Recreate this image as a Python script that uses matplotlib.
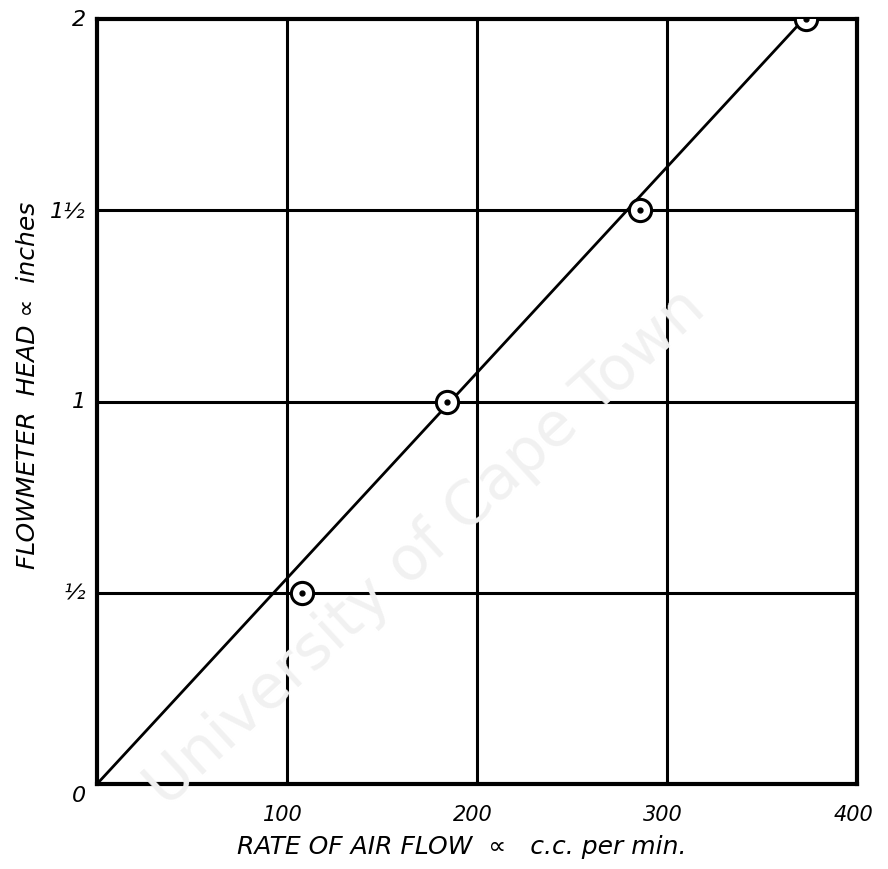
import matplotlib
matplotlib.use("Agg")
import matplotlib.pyplot as plt

# Data
flow_rate = [108, 184, 286, 373]          # c.c. per min
head = [0.5, 1.0, 1.5, 2.0]               # inches
fit_x = [0, 372]
fit_y = [0, 2]
x_ticks = [100, 200, 300, 400]
x_tick_labels = ["100", "200", "300", "400"]
y_ticks = [0, 0.5, 1, 1.5, 2]
y_tick_labels = ["0", "½", "1", "1½", "2"]

plt.rcParams['font.family'] = ['DejaVu Sans']

fig = plt.figure(figsize=(8.88, 8.70), dpi=100)
ax = fig.add_axes([97/888, 1 - 785/870, (857 - 97)/888, (785 - 20)/870])

# Watermark
fig.text(0.48, 0.37, "University of Cape Town", rotation=42.5, fontsize=44,
         color="#f1f1f1", ha="center", va="center", zorder=0)
ax.patch.set_alpha(0)

ax.set_xlim(0, 400)
ax.set_ylim(0, 2)

# grid
for xv in x_ticks[:-1]:
    ax.axvline(xv, color="black", lw=2.2, zorder=2)
for yv in y_ticks[1:-1]:
    ax.axhline(yv, color="black", lw=2.2, zorder=2)

for s in ax.spines.values():
    s.set_linewidth(3)
    s.set_color("black")

ax.plot(fit_x, fit_y, color="black", lw=2, zorder=3)
ax.plot(flow_rate, head, linestyle="none", marker="o", ms=16, mfc="white",
        mec="black", mew=2.2, zorder=4)
ax.plot(flow_rate, head, linestyle="none", marker="o", ms=3.5, mfc="black",
        mec="black", zorder=5)

ax.set_xticks([])
ax.set_yticks([])

# tick labels
for xv, lab in zip(x_ticks, x_tick_labels):
    ax.text(xv - 2, -0.078, lab, ha="center", va="center", fontsize=15,
            style="italic", transform=ax.transData, clip_on=False)
for yv, lab in zip(y_ticks, y_tick_labels):
    dy = -0.03 if yv == 0 else 0
    ax.text(-6, yv + dy, lab, ha="right", va="center", fontsize=16,
            style="italic", clip_on=False)

fig.text(0.52, 1 - 847/870, "RATE OF AIR FLOW  ∝   c.c. per min.", ha="center",
         va="center", fontsize=18, style="italic")
fig.text(28/888, 1 - 385/870, "FLOWMETER  HEAD ∝  inches", rotation=90,
         ha="center", va="center", fontsize=18, style="italic")

fig.savefig("out.png", dpi=100)
